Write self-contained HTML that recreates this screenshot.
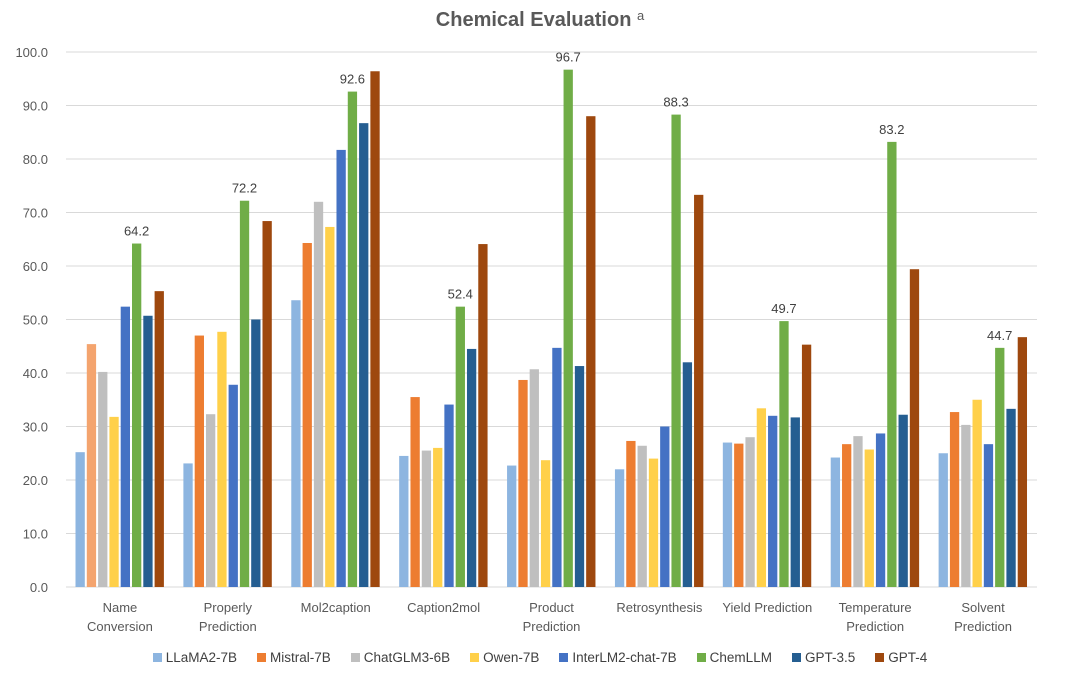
<!DOCTYPE html>
<html><head><meta charset="utf-8"><style>
body{margin:0;background:#fff;width:1080px;height:686px;overflow:hidden;font-family:"Liberation Sans",sans-serif}
#legend{position:absolute;top:650px;left:0;width:1080px;display:flex;justify-content:center;gap:20px;font-size:13.5px;color:#404040}
.li{display:flex;align-items:center;gap:4px}
.sw{width:9px;height:9px;display:inline-block}
</style></head><body>
<svg id="chart" width="1080" height="686" style="position:absolute;left:0;top:0">
<text x="540" y="26" text-anchor="middle" font-size="20" font-weight="bold" fill="#595959">Chemical Evaluation <tspan font-size="13" font-weight="normal" dy="-6">a</tspan></text>
<g id="grid"></g><g id="bars"></g><g id="labels"></g>
</svg>
<div id="legend"></div>
<script>
const categories=[["Name","Conversion"],["Properly","Prediction"],["Mol2caption"],["Caption2mol"],["Product","Prediction"],["Retrosynthesis"],["Yield Prediction"],["Temperature","Prediction"],["Solvent","Prediction"]];
const seriesNames=["LLaMA2-7B","Mistral-7B","ChatGLM3-6B","Owen-7B","InterLM2-chat-7B","ChemLLM","GPT-3.5","GPT-4"];
const llama=[25.2,23.1,53.6,24.5,22.7,22.0,27.0,24.2,25.0];
const mistral=[45.4,47.0,64.3,35.5,38.7,27.3,26.8,26.7,32.7];
const chatglm=[40.2,32.3,72.0,25.5,40.7,26.4,28.0,28.2,30.3];
const owen=[31.8,47.7,67.3,26.0,23.7,24.0,33.4,25.7,35.0];
const interlm=[52.4,37.8,81.7,34.1,44.7,30.0,32.0,28.7,26.7];
const chemllm=[64.2,72.2,92.6,52.4,96.7,88.3,49.7,83.2,44.7];
const gpt35=[50.7,50.0,86.7,44.5,41.3,42.0,31.7,32.2,33.3];
const gpt4=[55.3,68.4,96.4,64.1,88.0,73.3,45.3,59.4,46.7];
const yTicks=[0,10,20,30,40,50,60,70,80,90,100];
const series=[llama,mistral,chatglm,owen,interlm,chemllm,gpt35,gpt4];
const colors=["#8db5e0","#ed7d31","#bfbfbf","#ffd04a","#4472c4","#70ad47","#255e91","#9e480e"];
const X0=66,X1=1037,Y0=587,Y1=52,yMax=100;
const ns="http://www.w3.org/2000/svg";
const y=v=>Y0-(v/yMax)*(Y0-Y1);
const cw=(X1-X0)/categories.length;
const x=(c,s)=>X0+c*cw+9.5+s*11.3;
function mk(t,a,p){const e=document.createElementNS(ns,t);for(const k in a)e.setAttribute(k,a[k]);p.appendChild(e);return e;}
const grid=document.getElementById('grid'),bars=document.getElementById('bars'),labels=document.getElementById('labels');
yTicks.forEach(t=>{
 const l=mk('line',{x1:X0,x2:X1,y1:y(t),y2:y(t),stroke:'#d9d9d9','stroke-width':1},grid);
 
 
 const tx=mk('text',{x:48,y:y(t)+5,'text-anchor':'end','font-size':13,fill:'#595959'},grid);
 
 
 tx.textContent=t.toFixed(1);
});
series.forEach((arr,s)=>{arr.forEach((v,c)=>{
 let col=colors[s]; if(s===1&&c===0) col="#f4a46e";
 const r=mk('rect',{x:x(c,s),y:y(v),width:9.3,height:Y0-y(v),fill:col},bars);
 
 
 if(s===5){const t=mk('text',{x:x(c,s)+4.6,y:y(v)-8,'text-anchor':'middle','font-size':13,fill:'#404040'},labels);
  
  
  t.textContent=v.toFixed(1);}
});});
categories.forEach((lines,c)=>{
 const cx=X0+c*cw+cw/2;
 lines.forEach((ln,i)=>{const t=mk('text',{x:cx,y:612+i*19,'text-anchor':'middle','font-size':13,fill:'#595959'},labels);
  
  
  t.textContent=ln;});
});
const lg=document.getElementById('legend');
seriesNames.forEach((n,i)=>{
 const d=document.createElement('div');d.className='li';
 
 
 d.innerHTML='<span class="sw" style="background:'+colors[i]+'"></span><span>'+n+'</span>';
 lg.appendChild(d);
});
</script>
</body></html>
